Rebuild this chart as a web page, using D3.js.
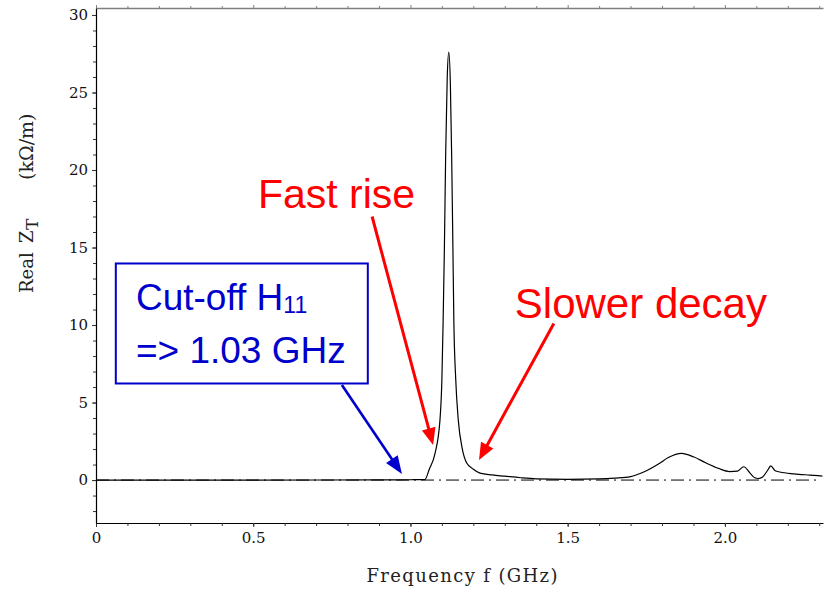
<!DOCTYPE html>
<html>
<head>
<meta charset="utf-8">
<script src="https://cdn.jsdelivr.net/npm/d3@7"></script>
<style>
  html, body { margin: 0; padding: 0; background: #fff; }
  svg { display: block; }
</style>
</head>
<body>
<svg id="chart" width="824" height="590"></svg>
<script>
'use strict';

// frequency (GHz) and real part of transverse impedance (kOhm/m)
const freqGHz = [
  0.00, 0.50, 0.90, 1.00, 1.046, 1.060, 1.078, 1.094, 1.100, 1.104, 1.108, 1.112,
  1.117, 1.122, 1.127, 1.131, 1.135, 1.138, 1.144, 1.152, 1.165, 1.179, 1.200,
  1.221, 1.26, 1.30, 1.35, 1.40, 1.50, 1.60, 1.65, 1.70, 1.74, 1.79, 1.82,
  1.862, 1.90, 1.94, 1.98, 2.015, 2.040, 2.060, 2.080, 2.095, 2.106, 2.12, 2.135,
  2.146, 2.16, 2.175, 2.22, 2.27, 2.31
];
const realZt = [
  0.00, 0.00, 0.01, 0.02, 0.03, 0.70, 1.70, 3.90, 6.50, 10.3, 15.0, 21.0,
  26.0, 27.6, 25.5, 21.0, 15.0, 10.3, 6.50, 3.90, 2.00, 1.10, 0.70,
  0.45, 0.33, 0.25, 0.15, 0.08, 0.05, 0.07, 0.12, 0.22, 0.50, 1.05, 1.45,
  1.72, 1.50, 1.10, 0.75, 0.55, 0.58, 0.86, 0.45, 0.15, 0.10, 0.20, 0.60,
  0.92, 0.60, 0.52, 0.40, 0.32, 0.26
];

const xMajorTicks = [0, 0.5, 1.0, 1.5, 2.0];
const xMinorTicks = d3.range(0, 24).map(function (i) { return i / 10; });
const yMajorTicks = [0, 5, 10, 15, 20, 25, 30];
const yMinorTicks = d3.range(-2, 31);

const xTitle = 'Frequency f (GHz)';
const yTitleParts = ['Real', 'Z', 'T', '(k\u03A9/m)'];
const boxLines = ['Cut-off H', '11', '=> 1.03 GHz'];
const redLabels = ['Fast rise', 'Slower decay'];

function render() {
  const svg = d3.select('#chart');
  const x = d3.scaleLinear().domain([0, 2.312]).range([96, 823]);
  const y = d3.scaleLinear().domain([-2.77, 30.45]).range([523, 8]);
  const serif = '"DejaVu Serif", serif';
  const sans = '"Liberation Sans", Arial, sans-serif';
  const red = '#ff0000';
  const blue = '#0000cc';

  // top frame (gray, ticks pointing up)
  const top = svg.append('g').attr('transform', 'translate(0,' + y.range()[1] + ')');
  top.call(d3.axisTop(x).tickValues(xMinorTicks).tickSize(2).tickSizeOuter(0).tickFormat(''));
  top.call(function (g) {
    g.selectAll('.tick line').attr('stroke', '#808080').attr('stroke-width', 1)
      .attr('y2', function (d) { return xMajorTicks.indexOf(Math.round(d * 10) / 10) >= 0 ? -3 : -2; });
    g.select('.domain').attr('stroke', '#808080').attr('stroke-width', 1.6);
  });

  // bottom axis
  const bottom = svg.append('g').attr('transform', 'translate(0,' + y.range()[0] + ')');
  bottom.call(d3.axisBottom(x).tickValues(xMinorTicks).tickSize(3).tickSizeOuter(0).tickFormat(''));
  bottom.select('.domain').attr('stroke', '#000').attr('stroke-width', 1.2);
  bottom.selectAll('.tick line').attr('stroke', '#333');
  const bottomLab = svg.append('g').attr('transform', 'translate(0,' + y.range()[0] + ')');
  bottomLab.call(d3.axisBottom(x).tickValues(xMajorTicks).tickSize(4).tickPadding(5)
    .tickFormat(function (d) { return d === 0 ? '0' : d3.format('.1f')(d); }));
  bottomLab.select('.domain').remove();
  bottomLab.selectAll('.tick line').attr('stroke', '#333');
  bottomLab.selectAll('text').attr('font-family', serif).attr('font-size', 15).attr('fill', '#111');

  // left axis
  const left = svg.append('g').attr('transform', 'translate(' + x.range()[0] + ',0)');
  left.call(d3.axisLeft(y).tickValues(yMinorTicks).tickSize(3).tickSizeOuter(0).tickFormat(''));
  left.select('.domain').attr('stroke', '#000').attr('stroke-width', 1.2);
  left.selectAll('.tick line').attr('stroke', '#333');
  const leftLab = svg.append('g').attr('transform', 'translate(' + x.range()[0] + ',0)');
  leftLab.call(d3.axisLeft(y).tickValues(yMajorTicks).tickSize(4).tickPadding(4));
  leftLab.select('.domain').remove();
  leftLab.selectAll('.tick line').attr('stroke', '#333');
  leftLab.selectAll('text').attr('font-family', serif).attr('font-size', 15).attr('fill', '#111');

  // zero reference line, dash-dot
  svg.append('line')
    .attr('x1', x(0)).attr('x2', x(2.295))
    .attr('y1', y(0)).attr('y2', y(0))
    .attr('stroke', '#000').attr('stroke-width', 1)
    .attr('stroke-dasharray', '13,5,2,5');

  // impedance curve
  const pts = freqGHz.map(function (f, i) { return { f: f, v: realZt[i] }; });
  const line = d3.line()
    .x(function (d) { return x(d.f); })
    .y(function (d) { return y(d.v); })
    .curve(d3.curveMonotoneX);
  svg.append('path')
    .datum(pts)
    .attr('fill', 'none')
    .attr('stroke', '#000')
    .attr('stroke-width', 1.2)
    .attr('d', line);

  // axis titles
  svg.append('text')
    .attr('x', 462).attr('y', 582)
    .attr('text-anchor', 'middle')
    .attr('font-family', serif).attr('font-size', 18).attr('fill', '#222')
    .attr('textLength', 191).attr('lengthAdjust', 'spacing')
    .text(xTitle);

  const yt = svg.append('g').attr('transform', 'translate(33,293) rotate(-90)')
    .attr('font-family', serif).attr('font-size', 18).attr('fill', '#222');
  yt.append('text').attr('x', 0).attr('y', 0).text(yTitleParts[0]);
  yt.append('text').attr('x', 50).attr('y', 0).text(yTitleParts[1]);
  yt.append('text').attr('x', 63).attr('y', 5).attr('font-size', 17).text(yTitleParts[2]);
  yt.append('text').attr('x', 113).attr('y', 0).attr('font-size', 19).text(yTitleParts[3]);

  // arrows
  function arrow(f0, v0, f1, v1, color, width, headLen, headHalf) {
    const x0 = x(f0), y0 = y(v0), x1 = x(f1), y1 = y(v1);
    const dx = x1 - x0, dy = y1 - y0;
    const len = Math.sqrt(dx * dx + dy * dy);
    const ux = dx / len, uy = dy / len;
    const bx = x1 - ux * headLen, by = y1 - uy * headLen;
    svg.append('line')
      .attr('x1', x0).attr('y1', y0).attr('x2', bx + ux * 2).attr('y2', by + uy * 2)
      .attr('stroke', color).attr('stroke-width', width);
    svg.append('path')
      .attr('d', 'M' + x1 + ',' + y1 +
        'L' + (bx - uy * headHalf) + ',' + (by + ux * headHalf) +
        'L' + (bx + uy * headHalf) + ',' + (by - ux * headHalf) + 'Z')
      .attr('fill', color);
  }
  arrow(0.878, 17.0, 1.072, 2.26, red, 3, 17, 7);
  arrow(1.456, 10.1, 1.218, 1.29, red, 3, 17, 7);
  arrow(0.782, 6.13, 0.973, 0.39, blue, 2.6, 18, 7);

  // red labels
  svg.append('text')
    .attr('x', x(0.515)).attr('y', y(17.55))
    .attr('font-family', sans).attr('font-size', 41).attr('fill', red)
    .text(redLabels[0]);
  svg.append('text')
    .attr('x', x(1.332)).attr('y', y(10.45))
    .attr('font-family', sans).attr('font-size', 42).attr('fill', red)
    .text(redLabels[1]);

  // cut-off box
  svg.append('rect')
    .attr('x', x(0.063)).attr('y', y(13.97))
    .attr('width', 252).attr('height', 120)
    .attr('fill', '#fff').attr('stroke', blue).attr('stroke-width', 2);
  const t1 = svg.append('text')
    .attr('x', x(0.127)).attr('y', y(10.97))
    .attr('font-family', sans).attr('font-size', 37).attr('fill', blue);
  t1.append('tspan').text(boxLines[0]);
  t1.append('tspan').attr('font-size', 23).attr('dy', 3.5).text(boxLines[1]);
  svg.append('text')
    .attr('x', x(0.127)).attr('y', y(7.57))
    .attr('font-family', sans).attr('font-size', 37).attr('fill', blue)
    .text(boxLines[2]);
}

render();
</script>
</body>
</html>
